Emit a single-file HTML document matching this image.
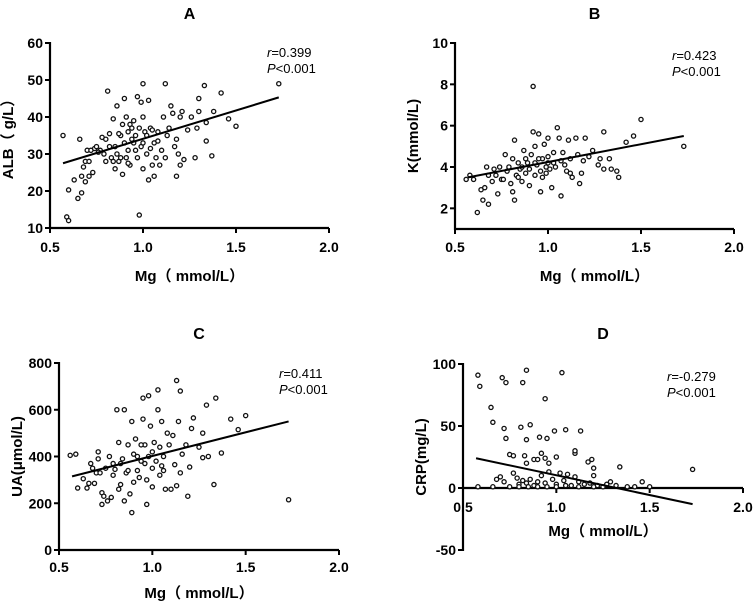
<!DOCTYPE html>
<html><head><meta charset="utf-8"><style>
html,body{margin:0;padding:0;background:#fff;}
svg text{font-family:"Liberation Sans","Noto Sans CJK SC",sans-serif;}
</style></head><body>
<svg id="fig" width="755" height="607" viewBox="0 0 755 607" xmlns="http://www.w3.org/2000/svg"></svg>
<script>
// ----- data -----
const xTicks = [0.5, 1.0, 1.5, 2.0];
const xTickLabels = ["0.5", "1.0", "1.5", "2.0"];

const aX = [0.57,0.59,0.6,0.6,0.63,0.65,0.66,0.67,0.67,0.68,0.69,0.69,0.7,0.71,0.71,0.72,0.73,0.74,0.75,0.77,0.78,0.79,0.8,0.8,0.81,0.82,0.82,0.83,0.84,0.84,0.85,0.85,0.86,0.86,0.87,0.88,0.88,0.89,0.9,0.9,0.91,0.92,0.92,0.93,0.93,0.94,0.95,0.95,0.96,0.97,0.97,0.98,0.98,0.99,0.99,1.0,1.0,1.0,1.01,1.02,1.03,1.03,1.04,1.05,1.06,1.06,1.07,1.08,1.09,1.1,1.11,1.12,1.12,1.13,1.14,1.15,1.16,1.17,1.18,1.18,1.19,1.2,1.2,1.21,1.22,1.24,1.26,1.28,1.29,1.3,1.3,1.33,1.34,1.34,1.37,1.38,1.42,1.46,1.5,1.73,0.87,0.94,0.96,1.02,1.04,0.91,0.89,1.08,0.76,0.92,1.0,1.05];
const aY = [35,13,12,20.3,23,18,34,19.5,24,26.5,22.5,28,31,28,24,31,25,31.5,32,31,34.5,30,28,34,47,32,35.5,29,39.5,28,26,32,43,30,28,35,29,24.5,45,33,40,36,31,27,38,34,33,39,35,29,45.5,13.5,37,44,32,26,40,49,36,30,44.5,23,37,27,33,24,29,36,27,31,40,49,29,35,37,43,41,32,24,34,30,40,27,41.5,28.5,36.5,40,29,37,45,41.5,48.5,33.5,38.5,29.5,41.5,46.5,39.5,37.5,49,35.5,37,31,35,31.5,29,38,33.5,30.5,27.5,33,36.5];
const aYTicks = [10,20,30,40,50,60];
const aFit = [[0.57,27.5],[1.73,45.3]];

const bX = [0.56,0.58,0.6,0.62,0.64,0.65,0.66,0.67,0.68,0.68,0.7,0.71,0.72,0.73,0.74,0.75,0.77,0.78,0.79,0.8,0.81,0.81,0.82,0.82,0.83,0.84,0.85,0.86,0.87,0.88,0.89,0.9,0.91,0.92,0.92,0.93,0.93,0.94,0.95,0.96,0.96,0.97,0.98,0.99,1.0,1.0,1.01,1.02,1.03,1.04,1.05,1.06,1.07,1.07,1.09,1.1,1.11,1.12,1.13,1.15,1.16,1.17,1.18,1.19,1.2,1.22,1.24,1.27,1.28,1.3,1.3,1.33,1.34,1.37,1.38,1.42,1.46,1.5,1.73,0.88,0.9,0.95,1.0,1.03,0.86,0.84,0.97,1.08,1.12,0.76,0.93,0.99];
const bY = [3.4,3.6,3.4,1.8,2.9,2.4,3.0,4.0,3.6,2.2,3.3,3.9,3.6,2.7,4.0,3.4,4.6,3.8,4.0,3.2,2.8,4.4,2.4,5.3,3.6,4.2,3.9,3.3,4.8,3.7,4.2,3.1,4.6,7.9,5.7,5.0,3.6,4.1,5.6,2.8,3.8,4.4,5.1,3.7,5.4,4.2,3.9,3.0,4.7,4.0,5.9,5.4,2.6,4.3,4.1,3.8,5.3,4.4,3.5,5.4,4.6,3.2,3.7,4.3,5.4,4.5,4.8,4.1,4.4,5.7,3.9,4.4,3.9,3.8,3.5,5.2,5.5,6.3,5.0,4.4,3.9,4.4,4.5,4.2,4.0,3.5,3.5,4.7,3.7,3.4,4.2,4.0];
const bYTicks = [2,4,6,8,10];
const bFit = [[0.57,3.5],[1.73,5.5]];

const cX = [0.56,0.59,0.6,0.63,0.65,0.66,0.67,0.68,0.69,0.7,0.71,0.71,0.72,0.73,0.73,0.74,0.76,0.77,0.78,0.79,0.8,0.81,0.82,0.82,0.83,0.84,0.85,0.85,0.86,0.87,0.88,0.89,0.89,0.9,0.9,0.91,0.92,0.93,0.94,0.95,0.95,0.96,0.97,0.97,0.98,0.98,0.99,1.0,1.0,1.01,1.02,1.03,1.03,1.04,1.05,1.06,1.06,1.07,1.08,1.1,1.11,1.12,1.13,1.13,1.14,1.15,1.15,1.16,1.18,1.19,1.2,1.21,1.22,1.25,1.27,1.27,1.29,1.3,1.33,1.34,1.37,1.42,1.46,1.5,1.73,0.87,0.92,0.96,1.0,1.05,1.09,0.83,0.79,0.94,1.04,0.75];
const cY = [405,410,265,305,265,285,370,350,285,330,420,390,330,195,245,230,210,400,225,370,345,600,260,460,280,390,600,210,330,450,240,160,550,290,410,475,340,310,380,650,560,450,195,300,660,400,530,270,350,460,380,685,600,440,550,340,400,260,500,260,490,365,725,275,550,680,330,410,450,230,355,520,565,440,500,395,620,400,280,650,415,560,515,575,215,340,400,370,420,360,450,370,320,450,320,350];
const cYTicks = [0,200,400,600,800];
const cFit = [[0.57,315],[1.73,550]];

const dX = [0.58,0.59,0.65,0.66,0.71,0.72,0.73,0.73,0.75,0.82,0.81,0.84,0.84,0.86,0.91,0.94,0.95,0.99,1.03,1.05,1.13,0.77,0.83,0.84,0.88,0.9,0.92,0.94,0.96,1.0,1.1,1.1,1.17,1.19,1.2,1.2,1.34,1.46,1.73,0.58,0.66,0.68,0.7,0.72,0.77,0.79,0.8,0.82,0.84,0.86,0.88,0.9,0.92,0.94,0.96,0.98,1.0,1.02,1.04,1.06,1.08,1.1,1.12,1.15,1.18,1.22,1.25,1.29,1.32,1.38,1.42,1.5,0.85,0.9,0.95,1.0,1.05,0.75,0.8,1.12,1.2,1.27];
const dY = [91,82,65,53,89,48,85,40,27,85,49,95,39,51,41,72,40,46,93,47,46,26,26,20,23,23,28,24,20,25,28,30,21,23,16,10,17,5,15,1,1,7,9,5,12,8,3,6,4,7,2,5,10,4,13,7,3,12,6,11,2,9,5,3,4,2,1,5,2,1,1,1,1,1,1,1,2,1,1,1,1,3];
const dYTicks = [-50,0,50,100];
const dFit = [[0.57,24],[1.73,-13]];

// ----- drawing -----
const NS = "http://www.w3.org/2000/svg";
const svg = document.getElementById("fig");
function mk(tag, attrs, parent, txt){
  const e = document.createElementNS(NS, tag);
  for (const k in attrs) e.setAttribute(k, attrs[k]);
  if (txt !== undefined) e.textContent = txt;
  (parent || svg).appendChild(e);
  return e;
}
function panel(p){
  const g = mk("g", {});
  
  
  const sx = v => p.x0 + (v - 0.5) / 1.5 * (p.x1 - p.x0);
  const sy = v => p.yb - (v - p.ymin) / (p.ymax - p.ymin) * (p.yb - p.yt);
  const t = mk("text", {x:(p.x0+p.x1)/2, y:p.titleY, "text-anchor":"middle", "font-size":16, "font-weight":"bold"}, g, p.id);
  
  
  const axY = sy(p.xAxisAt);
  const xa = mk("line", {x1:p.x0, x2:p.x1, y1:axY, y2:axY, stroke:"#000", "stroke-width":2.2}, g);
  
  
  const ya = mk("line", {x1:p.x0, x2:p.x0, y1:p.yt-1, y2:p.yb+1, stroke:"#000", "stroke-width":2.2}, g);
  
  
  xTicks.forEach((v,i)=>{
    const tk = mk("line", {x1:sx(v), x2:sx(v), y1:axY, y2:axY+5, stroke:"#000", "stroke-width":2}, g);
    
    
    const tl = mk("text", {x:sx(v), y:p.xTickY, "text-anchor":"middle", "font-size":14, "font-weight":"bold"}, g, xTickLabels[i]);
    
    
  });
  p.yTicks.forEach(v=>{
    const tk = mk("line", {x1:p.x0-5, x2:p.x0, y1:sy(v), y2:sy(v), stroke:"#000", "stroke-width":2}, g);
    
    
    const tl = mk("text", {x:p.x0-7, y:sy(v)+5, "text-anchor":"end", "font-size":14, "font-weight":"bold"}, g, String(v));
    
    
  });
  const xl = mk("text", {x:(p.x0+p.x1)/2, y:p.xLabelY, "text-anchor":"middle", "font-size":15, "font-weight":"bold"}, g, "Mg（ mmol/L）");
  
  
  const ylx = p.x0 - 37, yly = (p.yt+p.yb)/2;
  const yl = mk("text", {x:ylx, y:yly, "text-anchor":"middle", "font-size":15, "font-weight":"bold", transform:`rotate(-90 ${ylx} ${yly})`}, g, p.yLabel);
  
  
  p.xs.forEach((xv,i)=>{
    const c = mk("circle", {cx:sx(xv), cy:sy(p.ys[i]), r:2.1, fill:"#fff", stroke:"#111", "stroke-width":1.3}, g);
    
    
  });
  const fl = mk("line", {x1:sx(p.fit[0][0]), y1:sy(p.fit[0][1]), x2:sx(p.fit[1][0]), y2:sy(p.fit[1][1]), stroke:"#000", "stroke-width":2}, g);
  
  
  const r = mk("text", {x:p.annX, y:p.annY, "font-size":13}, g);
  
  
  mk("tspan", {"font-style":"italic"}, r, "r");
  mk("tspan", {}, r, "=" + p.r);
  const pv = mk("text", {x:p.annX, y:p.annY+16, "font-size":13}, g);
  
  
  mk("tspan", {"font-style":"italic"}, pv, "P");
  mk("tspan", {}, pv, "<0.001");
}
panel({id:"A", x0:50, x1:329, yt:43, yb:228, ymin:10, ymax:60, xAxisAt:10, yTicks:aYTicks, xs:aX, ys:aY, fit:aFit, titleY:19, xTickY:252, xLabelY:281, yLabel:"ALB（ g/L）", annX:267, annY:57, r:"0.399"});
panel({id:"B", x0:455, x1:734, yt:43, yb:229, ymin:1, ymax:10, xAxisAt:1, yTicks:bYTicks, xs:bX, ys:bY, fit:bFit, titleY:19, xTickY:252, xLabelY:281, yLabel:"K(mmol/L)", annX:672, annY:60, r:"0.423"});
panel({id:"C", x0:59, x1:339, yt:363, yb:550, ymin:0, ymax:800, xAxisAt:0, yTicks:cYTicks, xs:cX, ys:cY, fit:cFit, titleY:339, xTickY:572, xLabelY:598, yLabel:"UA(μmol/L)", annX:279, annY:378, r:"0.411"});
panel({id:"D", x0:463, x1:743, yt:364, yb:550, ymin:-50, ymax:100, xAxisAt:0, yTicks:dYTicks, xs:dX, ys:dY, fit:dFit, titleY:339, xTickY:512, xLabelY:536, yLabel:"CRP(mg/L)", annX:667, annY:381, r:"-0.279"});
</script>
</body></html>
